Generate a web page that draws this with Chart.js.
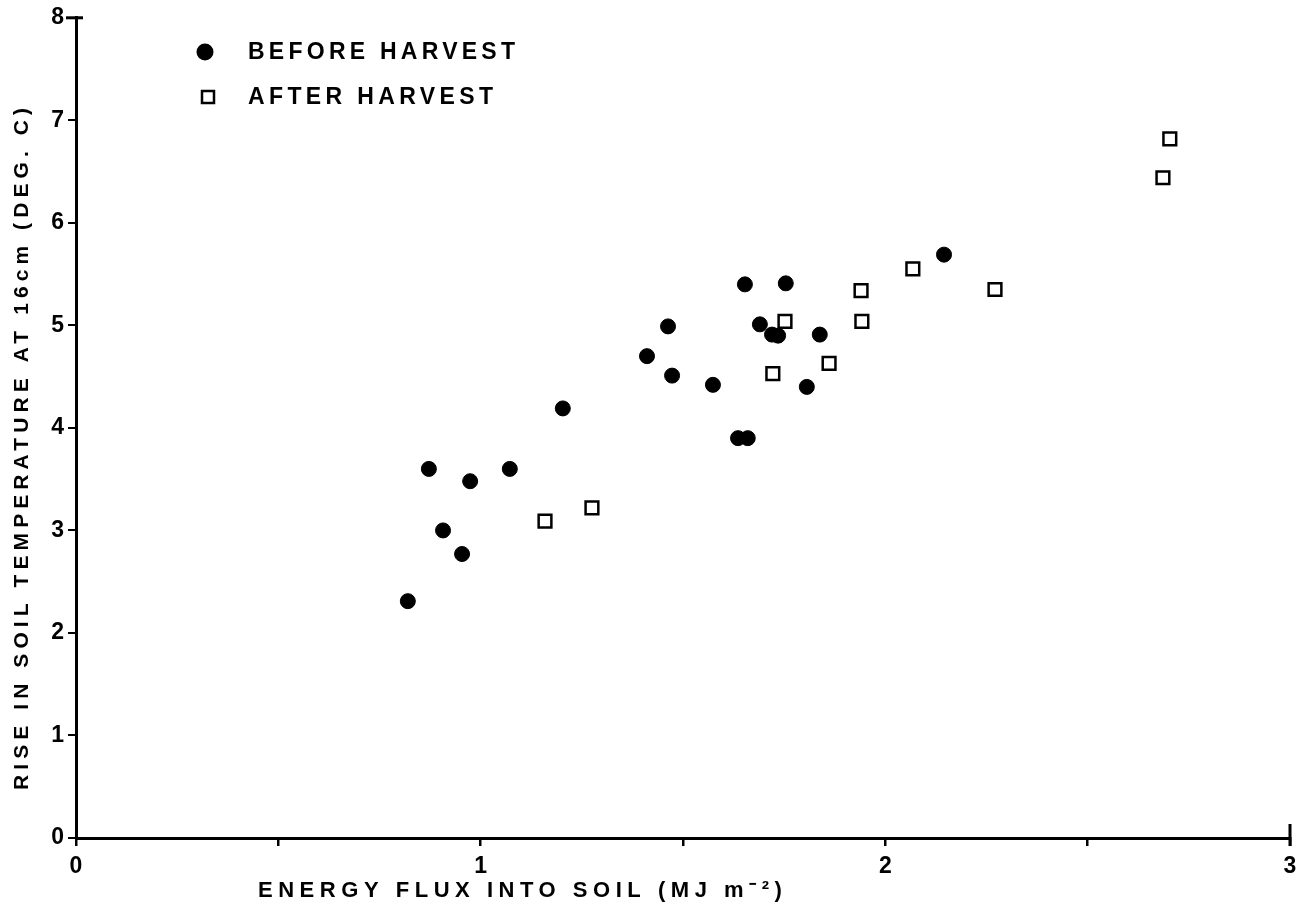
<!DOCTYPE html>
<html>
<head>
<meta charset="utf-8">
<script src="https://cdn.jsdelivr.net/npm/chart.js@4/dist/chart.umd.min.js"></script>
<style>
  html, body { margin: 0; padding: 0; background: #fff; }
  #wrap { width: 1313px; height: 912px; position: relative; }
</style>
</head>
<body>
<div id="wrap"><canvas id="c" width="1313" height="912"></canvas></div>
<script>
// ---- data ----
const beforeX = [0.82, 0.872, 0.907, 0.954, 0.974, 1.072, 1.203, 1.411, 1.463, 1.473, 1.574, 1.636, 1.660, 1.653, 1.690, 1.720, 1.735, 1.754, 1.806, 1.838, 2.145];
const beforeY = [2.31, 3.60, 3.00, 2.77, 3.48, 3.60, 4.19, 4.70, 4.99, 4.51, 4.42, 3.90, 3.90, 5.40, 5.01, 4.91, 4.90, 5.41, 4.40, 4.91, 5.69];
const afterX = [1.159, 1.275, 1.722, 1.752, 1.861, 1.940, 1.942, 2.068, 2.271, 2.686, 2.703];
const afterY = [3.09, 3.22, 4.53, 5.04, 4.63, 5.34, 5.04, 5.55, 5.35, 6.44, 6.82];
const xTickLabels = [0, 1, 2, 3];
const yTickLabels = [0, 1, 2, 3, 4, 5, 6, 7, 8];
const seriesNames = ['BEFORE HARVEST', 'AFTER HARVEST'];
const xTitle = 'ENERGY FLUX INTO SOIL (MJ m\u207B\u00B2)';
const yTitle = 'RISE IN SOIL TEMPERATURE AT 16cm (DEG. C)';

const FONT = '"Liberation Sans", Arial, sans-serif';
const toPts = (xs, ys) => xs.map((x, i) => ({ x: x, y: ys[i] }));

function fitText(ctx, text, x, y, width, align) {
  ctx.letterSpacing = '0px';
  const w0 = ctx.measureText(text).width;
  const n = Math.max(text.length - 1, 1);
  const ls = (width - w0) / n;
  ctx.letterSpacing = ls.toFixed(2) + 'px';
  ctx.textAlign = 'left';
  ctx.fillText(text, align === 'center' ? x - width / 2 : x, y);
  ctx.letterSpacing = '0px';
}

const decor = {
  id: 'decor',
  afterDraw(chart) {
    const ctx = chart.ctx;
    const xs = chart.scales.x, ys = chart.scales.y;
    ctx.save();
    ctx.strokeStyle = '#000';
    ctx.lineWidth = 3;
    // end caps of the axes
    const yTop = ys.getPixelForValue(8), xl = xs.getPixelForValue(0);
    ctx.beginPath(); ctx.moveTo(xl - 10, yTop); ctx.lineTo(xl + 7, yTop); ctx.stroke();
    const xr = xs.getPixelForValue(3), yb = ys.getPixelForValue(0);
    ctx.beginPath(); ctx.moveTo(xr, yb - 14); ctx.lineTo(xr, yb + 8); ctx.stroke();

    // axis titles
    ctx.fillStyle = '#000';
    ctx.textBaseline = 'middle';
    ctx.font = 'bold 22px ' + FONT;
    fitText(ctx, xTitle, 520, 891, 524, 'center');
    ctx.save();
    ctx.translate(22, 449);
    ctx.rotate(-Math.PI / 2);
    ctx.font = 'bold 21px ' + FONT;
    fitText(ctx, yTitle, 0, 0, 682, 'center');
    ctx.restore();

    // legend
    ctx.font = 'bold 23px ' + FONT;
    ctx.beginPath(); ctx.arc(205, 52, 8.5, 0, Math.PI * 2); ctx.fill();
    fitText(ctx, seriesNames[0], 248, 53, 267, 'left');
    ctx.lineWidth = 2.5;
    ctx.strokeRect(202, 91, 12, 12);
    fitText(ctx, seriesNames[1], 248, 98, 245, 'left');
    ctx.restore();
  }
};

new Chart(document.getElementById('c'), {
  type: 'scatter',
  data: {
    datasets: [
      { label: seriesNames[0], data: toPts(beforeX, beforeY), pointStyle: 'circle', pointRadius: 7.5, pointHoverRadius: 7.5,
        backgroundColor: '#000', borderColor: '#000', borderWidth: 1 },
      { label: seriesNames[1], data: toPts(afterX, afterY), pointStyle: 'rect', pointRadius: 9, pointHoverRadius: 9,
        backgroundColor: '#fff', borderColor: '#000', borderWidth: 2.5 }
    ]
  },
  options: {
    responsive: false,
    animation: false,
    layout: { padding: { left: 0, top: 16, right: 23, bottom: 0 } },
    plugins: { legend: { display: false }, tooltip: { enabled: false } },
    scales: {
      x: {
        type: 'linear', min: 0, max: 3,
        afterFit(s) { s.height = 74; },
        ticks: { stepSize: 0.5, autoSkip: false, maxRotation: 0, color: '#000', padding: 7,
          font: { family: FONT, size: 23, weight: 'bold' },
          callback: v => xTickLabels.includes(v) ? String(v) : '' },
        grid: { drawOnChartArea: false, drawTicks: true, tickLength: 8, color: '#000', lineWidth: 2.5 },
        border: { color: '#000', width: 3 }
      },
      y: {
        type: 'linear', min: 0, max: 8,
        afterFit(s) { s.width = 76; },
        ticks: { stepSize: 1, color: '#000', padding: 4,
          font: { family: FONT, size: 23, weight: 'bold' },
          callback: v => yTickLabels.includes(v) ? String(v) : '' },
        grid: { drawOnChartArea: false, drawTicks: true, tickLength: 8, color: '#000', lineWidth: 2 },
        border: { color: '#000', width: 3 }
      }
    }
  },
  plugins: [decor]
});
</script>
</body>
</html>
